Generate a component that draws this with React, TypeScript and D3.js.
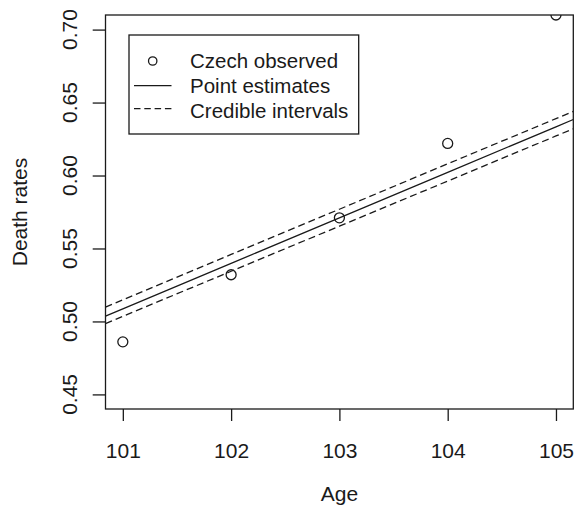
import React, { useEffect, useRef } from 'react';
import * as d3 from 'd3';

// data
const ages = [101, 102, 103, 104, 105];
const observed = [0.486, 0.532, 0.571, 0.622, 0.710];
const estimates = [0.5086, 0.5398, 0.5710, 0.6022, 0.6334];
const upperCI = [0.5148, 0.5459, 0.5769, 0.6080, 0.6390];
const lowerCI = [0.5035, 0.5344, 0.5653, 0.5962, 0.6271];
const yTicks = [0.45, 0.5, 0.55, 0.6, 0.65, 0.7];
const legendLabels = ['Czech observed', 'Point estimates', 'Credible intervals'];

const App = () => {
  const ref = useRef<SVGSVGElement | null>(null);

  const width = 576, height = 506;
  const left = 105.5, right = 573.3, top = 15, bottom = 409;
  const INK = '#1a1a1a';
  const FONT = '"Liberation Sans", Arial, sans-serif';

  useEffect(() => {
    const svg = d3.select(ref.current);
    svg.selectAll('*').remove();

    // R-style 4% padding
    const x = d3.scaleLinear().domain([100.84, 105.16]).range([left, right]);
    const y = d3.scaleLinear().domain([0.44, 0.71]).range([bottom, top]);

    svg.append('defs').append('clipPath').attr('id', 'plot-clip')
      .append('rect')
      .attr('x', left).attr('y', top)
      .attr('width', right - left).attr('height', bottom - top);

    const plot = svg.append('g').attr('clip-path', 'url(#plot-clip)');

    // straight line through the series, run out to the plot edges (like abline)
    const [x0, x1] = x.domain();
    const extend = (vals: number[]) => {
      const n = vals.length;
      const sL = vals[1] - vals[0];
      const sR = vals[n - 1] - vals[n - 2];
      const pts: [number, number][] = [[x0, vals[0] - sL * (ages[0] - x0)]];
      ages.forEach((a, i) => pts.push([a, vals[i]]));
      pts.push([x1, vals[n - 1] + sR * (x1 - ages[n - 1])]);
      return pts;
    };
    const line = d3.line<[number, number]>().x(d => x(d[0])).y(d => y(d[1]));

    plot.append('path')
      .attr('d', line(extend(estimates)))
      .attr('fill', 'none').attr('stroke', INK).attr('stroke-width', 1.3);

    [upperCI, lowerCI].forEach(ci => {
      plot.append('path')
        .attr('d', line(extend(ci)))
        .attr('fill', 'none').attr('stroke', INK).attr('stroke-width', 1.3)
        .attr('stroke-dasharray', '7,4');
    });

    plot.selectAll('circle.obs')
      .data(ages.map((a, i) => [a, observed[i]] as [number, number]))
      .join('circle')
      .attr('class', 'obs')
      .attr('cx', d => x(d[0]))
      .attr('cy', d => y(d[1]))
      .attr('r', 5)
      .attr('fill', 'none').attr('stroke', INK).attr('stroke-width', 1.3);

    // box
    svg.append('rect')
      .attr('x', left).attr('y', top)
      .attr('width', right - left).attr('height', bottom - top)
      .attr('fill', 'none').attr('stroke', INK).attr('stroke-width', 1.3);

    // x axis
    svg.append('g')
      .attr('transform', `translate(0,${bottom})`)
      .call(d3.axisBottom(x).tickValues(ages).tickFormat(d => String(d)).tickSize(12).tickPadding(22))
      .call(g => {
        g.select('.domain').remove();
        g.selectAll('.tick line').attr('stroke', INK).attr('stroke-width', 1.3);
        g.selectAll('.tick text')
          .attr('fill', INK)
          .style('font-family', FONT)
          .style('font-size', '21px');
      });

    // y axis, labels rotated like R
    const yAxis = svg.append('g').attr('transform', `translate(${left},0)`);
    yAxis.call(d3.axisLeft(y).tickValues(yTicks).tickFormat(() => '').tickSize(12.8))
      .call(g => {
        g.select('.domain').remove();
        g.selectAll('.tick line').attr('stroke', INK).attr('stroke-width', 1.3);
      });
    yAxis.selectAll('text.ylab')
      .data(yTicks)
      .join('text')
      .attr('class', 'ylab')
      .attr('transform', d => `translate(${76.5 - left},${y(d)}) rotate(-90)`)
      .attr('text-anchor', 'middle')
      .attr('fill', INK)
      .style('font-family', FONT)
      .style('font-size', '21px')
      .text(d => d3.format('.2f')(d));

    // axis titles
    svg.append('text')
      .attr('x', (left + right) / 2).attr('y', 501)
      .attr('text-anchor', 'middle')
      .attr('fill', INK)
      .style('font-family', FONT).style('font-size', '21px')
      .text('Age');

    svg.append('text')
      .attr('transform', `translate(26.5,${(top + bottom) / 2}) rotate(-90)`)
      .attr('text-anchor', 'middle')
      .attr('fill', INK)
      .style('font-family', FONT).style('font-size', '21px')
      .text('Death rates');

    // legend
    const lg = svg.append('g');
    lg.append('rect')
      .attr('x', 129).attr('y', 35)
      .attr('width', 229.7).attr('height', 99)
      .attr('fill', 'white').attr('stroke', INK).attr('stroke-width', 1.3);

    const rowY = [61, 85.6, 110.2];
    lg.append('circle')
      .attr('cx', 152.7).attr('cy', rowY[0]).attr('r', 4.2)
      .attr('fill', 'none').attr('stroke', INK).attr('stroke-width', 1.3);
    lg.append('line')
      .attr('x1', 134).attr('x2', 171.5).attr('y1', rowY[1]).attr('y2', rowY[1])
      .attr('stroke', INK).attr('stroke-width', 1.3);
    lg.append('line')
      .attr('x1', 134).attr('x2', 171.5).attr('y1', rowY[2] - 1.5).attr('y2', rowY[2] - 1.5)
      .attr('stroke', INK).attr('stroke-width', 1.3)
      .attr('stroke-dasharray', '6.5,3.8');

    lg.selectAll('text.leg')
      .data(legendLabels)
      .join('text')
      .attr('class', 'leg')
      .attr('x', 190)
      .attr('y', (_, i) => rowY[i] + 7.4)
      .attr('fill', INK)
      .style('font-family', FONT).style('font-size', '20.5px')
      .text(d => d);
  }, []);

  return (
    <svg
      ref={ref}
      width={width}
      height={height}
      style={{ position: 'absolute', left: 0, top: 0, background: 'white' }}
    />
  );
};

export default App;
